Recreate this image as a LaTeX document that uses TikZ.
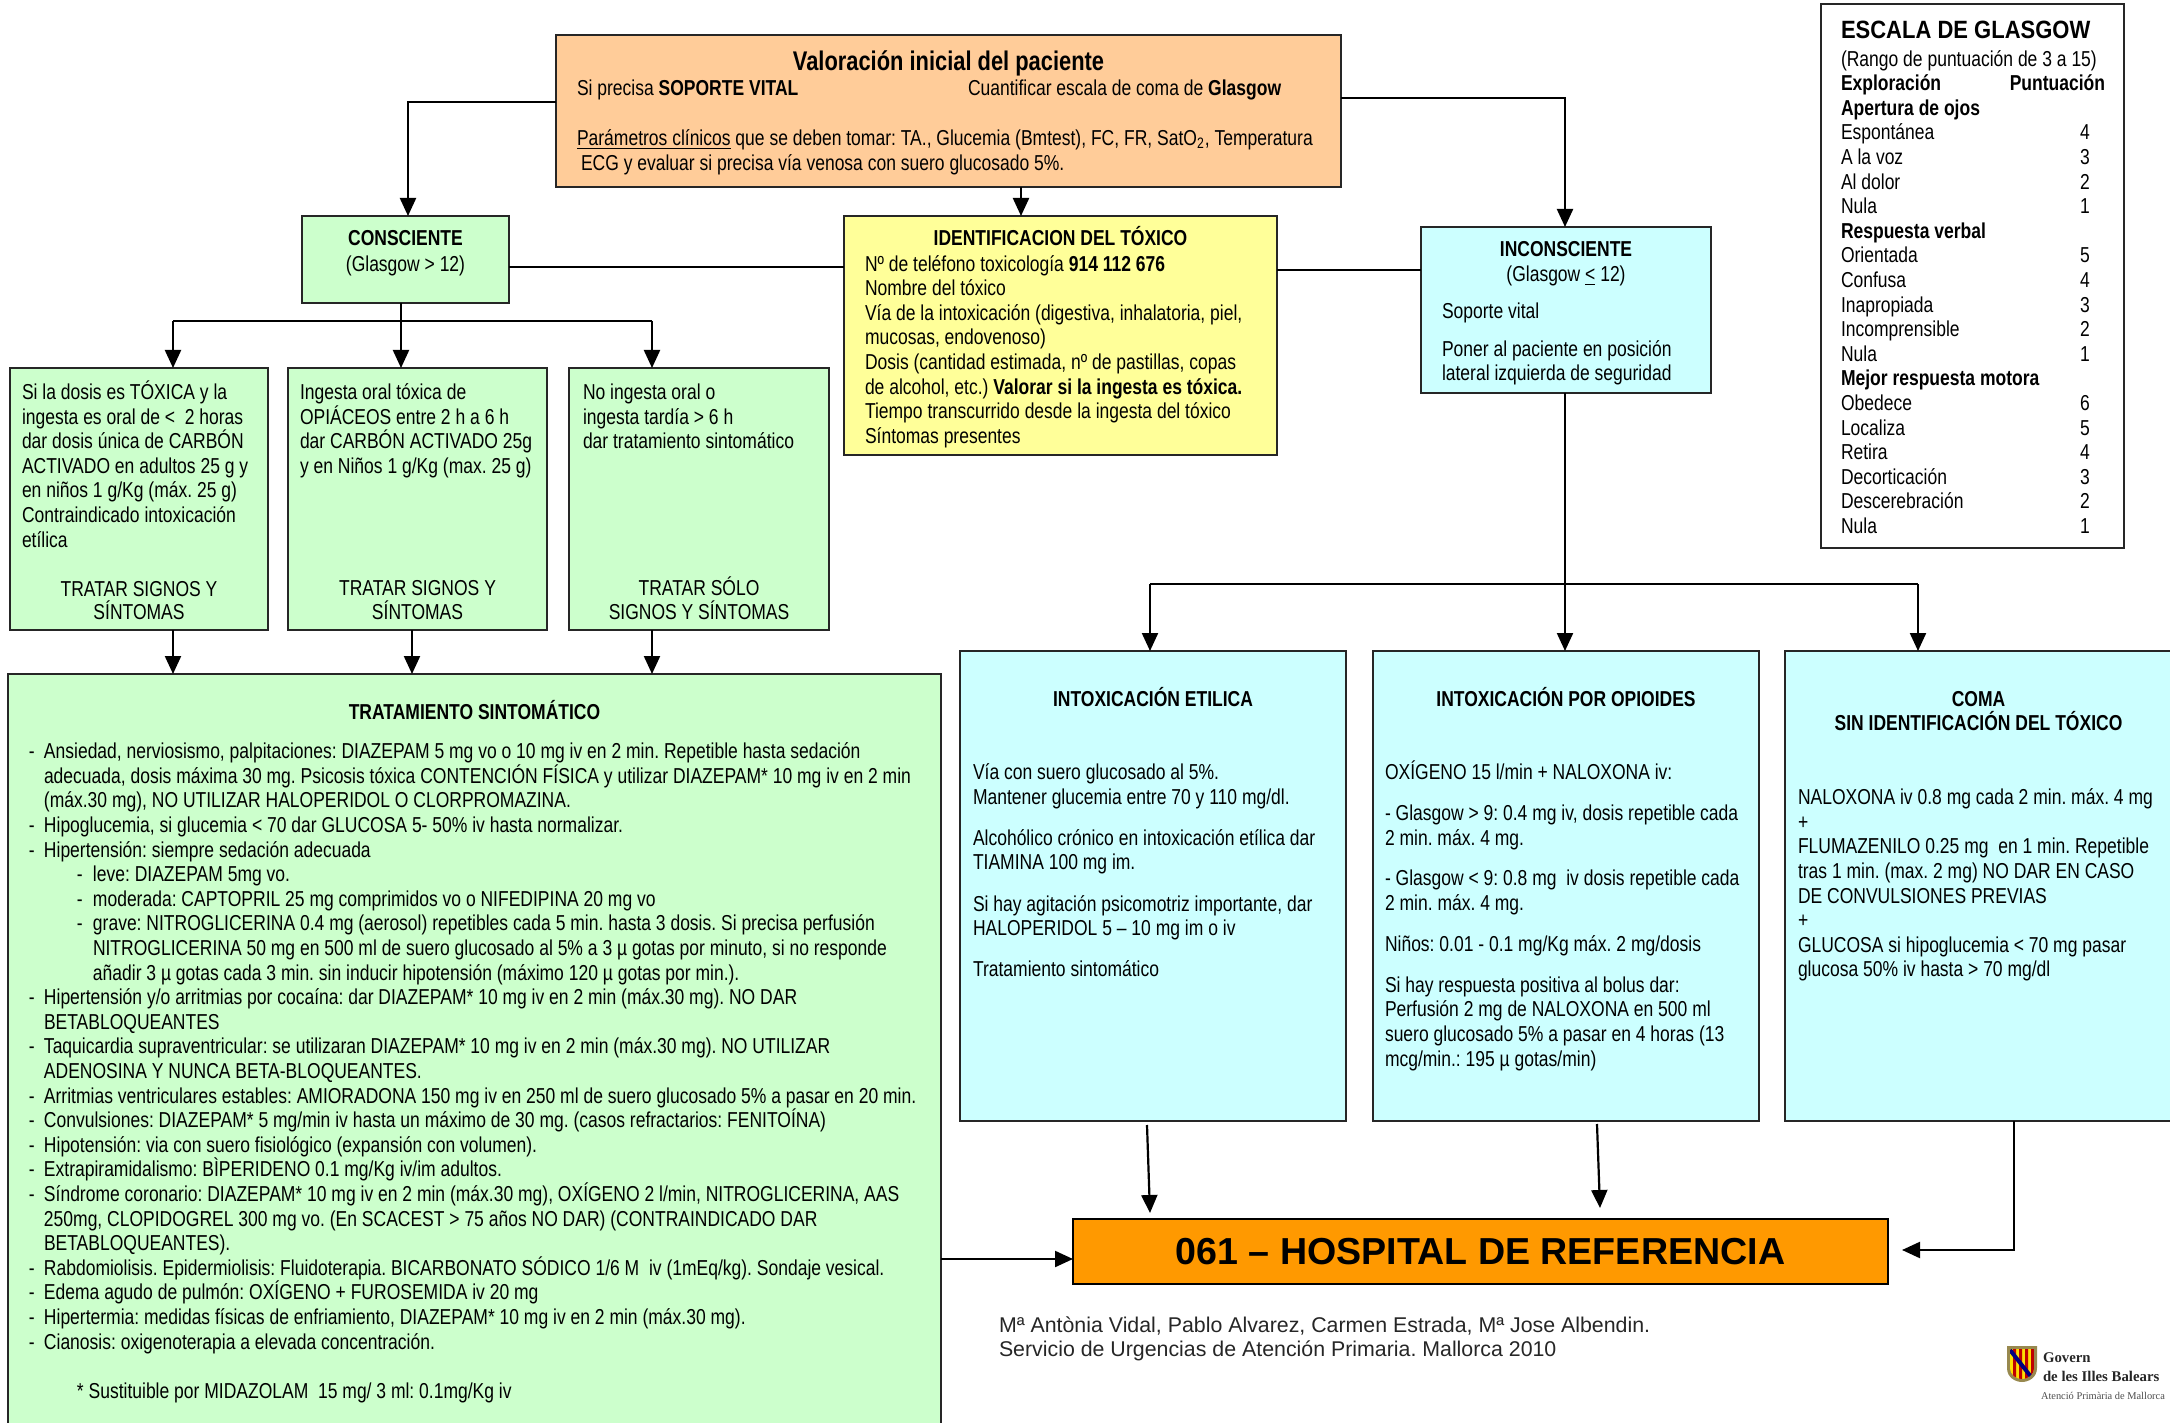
\documentclass[tikz,border=0pt]{standalone}
\usepackage{fontspec}
\usetikzlibrary{arrows.meta}
\setmainfont{Liberation Sans}[FakeStretch=0.81]
\newfontfamily\widefont{Liberation Sans}
\newfontfamily\titlefont{Liberation Sans}[FakeStretch=0.88]
\newfontfamily\logofont{Liberation Serif}
\definecolor{cgreen}{HTML}{CCFFCC}
\definecolor{cyellow}{HTML}{FFFF99}
\definecolor{ccyan}{HTML}{CCFFFF}
\definecolor{corange}{HTML}{FFCC99}
\definecolor{chosp}{HTML}{FF9900}
\newdimen\pxu \pxu=0.5pt
\newdimen\curpad
\newdimen\bxw
\newdimen\bxh
\lineskiplimit=-20pt
\frenchspacing
\newcommand\basefont{\fontsize{10.8pt}{12.3pt}\selectfont\frenchspacing}
\newcommand\PD[1]{\curpad=#1\pxu\relax}
\newcommand\SK[1]{\vskip #1\pxu\relax}
\newcommand\LL[1]{\setbox0\hbox{\hskip\curpad #1}\ht0=8pt \dp0=3pt \box0\relax}
\newcommand\LC[1]{\setbox0\hbox to \hsize{\hss #1\hss}\ht0=8pt \dp0=3pt \box0\relax}
\newcommand\DA[1]{\LL{\makebox[7.5pt][l]{-}#1}}
\newcommand\CA[1]{\LL{\hskip7.5pt\relax #1}}
\newcommand\DB[1]{\LL{\hskip24pt\relax\makebox[8pt][l]{-}#1}}
\newcommand\CB[1]{\LL{\hskip32pt\relax #1}}
\newcommand\GL[2]{\LL{\makebox[119.6pt][l]{#1}#2}}
\newcommand\bx[7]{%
  \bxw=\dimexpr\numexpr#4-#2\relax\pxu\relax
  \bxh=\dimexpr\numexpr#5-#3\relax\pxu\relax
  \node[boxst,#6,anchor=north west,minimum width=\the\bxw,minimum height=\the\bxh] (#1) at (#2,#3)
    {\vbox to \bxh{\hsize=\bxw \hrule height 0pt width \hsize\relax #7\vss}};}
\tikzset{
  boxst/.style={draw=black!85,line width=1pt,inner sep=0pt,outer sep=0pt,font=\basefont},
  lnk/.style={draw=black,line width=1.1pt},
  arr/.style={draw=black,line width=1.1pt,-{Triangle[length=9pt,width=8pt]}},
  free/.style={inner sep=0pt,outer sep=0pt,anchor=west},
  gbox/.style={fill=cgreen},
  ybox/.style={fill=cyellow},
  cbox/.style={fill=ccyan},
  obox/.style={fill=corange},
  wbox/.style={fill=white},
}
\begin{document}
\begin{tikzpicture}[x=0.5pt,y=-0.5pt]
\clip (0,0) rectangle (2170,1423);
\useasboundingbox (0,0) rectangle (2170,1423);
% --- boxes
\bx{oa}{556}{35}{1341}{187}{obox}{\PD{21}\SK{20}%
  \LC{\fontsize{13.5pt}{12.3pt}\selectfont\bfseries Valoración inicial del paciente}\SK{-0.5}%
  \LL{\makebox[195.5pt][l]{Si precisa \textbf{SOPORTE VITAL}}Cuantificar escala de coma de \textbf{Glasgow}}\SK{25.5}%
  \LL{\underline{Parámetros clínicos} que se deben tomar: TA., Glucemia (Bmtest), FC, FR, SatO\textsubscript{2}, Temperatura}\SK{1}%
  \LL{\hskip2pt ECG y evaluar si precisa vía venosa con suero glucosado 5\%.}}
\bx{cons}{302}{216}{509}{303}{gbox}{\PD{10}\SK{13.5}%
  \LC{\bfseries CONSCIENTE}\SK{1.5}%
  \LC{(Glasgow > 12)}}
\bx{ye}{844}{216}{1277}{455}{ybox}{\PD{21}\SK{13.5}%
  \LC{\bfseries IDENTIFICACION DEL TÓXICO}\SK{1}%
  \LL{Nº de teléfono toxicología \textbf{914 112 676}}%
  \LL{Nombre del tóxico}%
  \LL{Vía de la intoxicación (digestiva, inhalatoria, piel,}%
  \LL{mucosas, endovenoso)}%
  \LL{Dosis (cantidad estimada, nº de pastillas, copas}%
  \LL{de alcohol, etc.) \textbf{Valorar si la ingesta es tóxica.}}%
  \LL{Tiempo transcurrido desde la ingesta del tóxico}%
  \LL{Síntomas presentes}}
\bx{inc}{1421}{227}{1711}{393}{cbox}{\PD{21}\SK{13.5}%
  \LC{\bfseries INCONSCIENTE}\SK{0.5}%
  \LC{(Glasgow \underline{<} 12)}\SK{12.5}%
  \LL{Soporte vital}\SK{13}%
  \LL{Poner al paciente en posición}%
  \LL{lateral izquierda de seguridad}}
\bx{gA}{10}{368}{268}{630}{gbox}{\PD{12}\SK{15.5}%
  \LL{Si la dosis es TÓXICA y la}%
  \LL{ingesta es oral de <\ \ 2 horas}%
  \LL{dar dosis única de CARBÓN}%
  \LL{ACTIVADO en adultos 25 g y}%
  \LL{en niños 1 g/Kg (máx. 25 g)}%
  \LL{Contraindicado intoxicación}%
  \LL{etílica}\SK{24.5}%
  \LC{TRATAR SIGNOS Y}\SK{-1}%
  \LC{SÍNTOMAS}}
\bx{gB}{288}{368}{547}{630}{gbox}{\PD{12}\SK{15.5}%
  \LL{Ingesta oral tóxica de}%
  \LL{OPIÁCEOS entre 2 h a 6 h}%
  \LL{dar CARBÓN ACTIVADO 25g}%
  \LL{y en Niños 1 g/Kg (max. 25 g)}\SK{97.5}%
  \LC{TRATAR SIGNOS Y}\SK{-1}%
  \LC{SÍNTOMAS}}
\bx{gC}{569}{368}{829}{630}{gbox}{\PD{14}\SK{15.5}%
  \LL{No ingesta oral o}%
  \LL{ingesta tardía > 6 h}%
  \LL{dar tratamiento sintomático}\SK{122.5}%
  \LC{TRATAR SÓLO}\SK{-1}%
  \LC{SIGNOS Y SÍNTOMAS}}
\bx{trat}{8}{674}{941}{1432}{gbox}{\PD{21}\SK{29.5}%
  \LC{\bfseries TRATAMIENTO SINTOMÁTICO}\SK{14.5}%
  \DA{Ansiedad, nerviosismo, palpitaciones: DIAZEPAM 5 mg vo o 10 mg iv en 2 min. Repetible hasta sedación}%
  \CA{adecuada, dosis máxima 30 mg. Psicosis tóxica CONTENCIÓN FÍSICA y utilizar DIAZEPAM* 10 mg iv en 2 min}%
  \CA{(máx.30 mg), NO UTILIZAR HALOPERIDOL O CLORPROMAZINA.}%
  \DA{Hipoglucemia, si glucemia < 70 dar GLUCOSA 5- 50\% iv hasta normalizar.}%
  \DA{Hipertensión: siempre sedación adecuada}%
  \DB{leve: DIAZEPAM 5mg vo.}%
  \DB{moderada: CAPTOPRIL 25 mg comprimidos vo o NIFEDIPINA 20 mg vo}%
  \DB{grave: NITROGLICERINA 0.4 mg (aerosol) repetibles cada 5 min. hasta 3 dosis. Si precisa perfusión}%
  \CB{NITROGLICERINA 50 mg en 500 ml de suero glucosado al 5\% a 3 µ gotas por minuto, si no responde}%
  \CB{añadir 3 µ gotas cada 3 min. sin inducir hipotensión (máximo 120 µ gotas por min.).}%
  \DA{Hipertensión y/o arritmias por cocaína: dar DIAZEPAM* 10 mg iv en 2 min (máx.30 mg). NO DAR}%
  \CA{BETABLOQUEANTES}%
  \DA{Taquicardia supraventricular: se utilizaran DIAZEPAM* 10 mg iv en 2 min (máx.30 mg). NO UTILIZAR}%
  \CA{ADENOSINA Y NUNCA BETA-BLOQUEANTES.}%
  \DA{Arritmias ventriculares estables: AMIORADONA 150 mg iv en 250 ml de suero glucosado 5\% a pasar en 20 min.}%
  \DA{Convulsiones: DIAZEPAM* 5 mg/min iv hasta un máximo de 30 mg. (casos refractarios: FENITOÍNA)}%
  \DA{Hipotensión: via con suero fisiológico (expansión con volumen).}%
  \DA{Extrapiramidalismo: BÌPERIDENO 0.1 mg/Kg iv/im adultos.}%
  \DA{Síndrome coronario: DIAZEPAM* 10 mg iv en 2 min (máx.30 mg), OXÍGENO 2 l/min, NITROGLICERINA, AAS}%
  \CA{250mg, CLOPIDOGREL 300 mg vo. (En SCACEST > 75 años NO DAR) (CONTRAINDICADO DAR}%
  \CA{BETABLOQUEANTES).}%
  \DA{Rabdomiolisis. Epidermiolisis: Fluidoterapia. BICARBONATO SÓDICO 1/6 M\ \ iv (1mEq/kg). Sondaje vesical.}%
  \DA{Edema agudo de pulmón: OXÍGENO + FUROSEMIDA iv 20 mg}%
  \DA{Hipertermia: medidas físicas de enfriamiento, DIAZEPAM* 10 mg iv en 2 min (máx.30 mg).}%
  \DA{Cianosis: oxigenoterapia a elevada concentración.}\SK{25}%
  \LL{\hskip24pt * Sustituible por MIDAZOLAM\ \ 15 mg/ 3 ml: 0.1mg/Kg iv}}
\bx{et}{960}{651}{1346}{1121}{cbox}{\PD{13}\SK{39.5}%
  \LC{\bfseries INTOXICACIÓN ETILICA}\SK{48.5}%
  \LL{Vía con suero glucosado al 5\%.}%
  \LL{Mantener glucemia entre 70 y 110 mg/dl.}\SK{16.5}%
  \LL{Alcohólico crónico en intoxicación etílica dar}%
  \LL{TIAMINA 100 mg im.}\SK{16.5}%
  \LL{Si hay agitación psicomotriz importante, dar}%
  \LL{HALOPERIDOL 5 – 10 mg im o iv}\SK{16.5}%
  \LL{Tratamiento sintomático}}
\bx{op}{1373}{651}{1759}{1121}{cbox}{\PD{12}\SK{39.5}%
  \LC{\bfseries INTOXICACIÓN POR OPIOIDES}\SK{48.5}%
  \LL{OXÍGENO 15 l/min + NALOXONA iv:}\SK{16.5}%
  \LL{- Glasgow > 9: 0.4 mg iv, dosis repetible cada}%
  \LL{2 min. máx. 4 mg.}\SK{16}%
  \LL{- Glasgow < 9: 0.8 mg\ \ iv dosis repetible cada}%
  \LL{2 min. máx. 4 mg.}\SK{16}%
  \LL{Niños: 0.01 - 0.1 mg/Kg máx. 2 mg/dosis}\SK{16.5}%
  \LL{Si hay respuesta positiva al bolus dar:}%
  \LL{Perfusión 2 mg de NALOXONA en 500 ml}%
  \LL{suero glucosado 5\% a pasar en 4 horas (13}%
  \LL{mcg/min.: 195 µ gotas/min)}}
\bx{co}{1785}{651}{2172}{1121}{cbox}{\PD{13}\SK{39.5}%
  \LC{\bfseries COMA}\SK{-0.5}%
  \LC{\bfseries SIN IDENTIFICACIÓN DEL TÓXICO}\SK{49.5}%
  \LL{NALOXONA iv 0.8 mg cada 2 min. máx. 4 mg}%
  \LL{+}%
  \LL{FLUMAZENILO 0.25 mg\ \ en 1 min. Repetible}%
  \LL{tras 1 min. (max. 2 mg) NO DAR EN CASO}%
  \LL{DE CONVULSIONES PREVIAS}%
  \LL{+}%
  \LL{GLUCOSA si hipoglucemia < 70 mg pasar}%
  \LL{glucosa 50\% iv hasta > 70 mg/dl}}
\bx{gl}{1821}{4}{2124}{548}{wbox}{\PD{20}\SK{18}%
  \LL{\titlefont\fontsize{12.5pt}{12.25pt}\selectfont\bfseries ESCALA DE GLASGOW}\SK{3.5}%
  \LL{(Rango de puntuación de 3 a 15)}%
  \LL{\makebox[132pt][l]{\textbf{Exploración}\hfill\textbf{Puntuación}}}%
  \LL{\textbf{Apertura de ojos}}%
  \GL{Espontánea}{4}\GL{A la voz}{3}\GL{Al dolor}{2}\GL{Nula}{1}%
  \LL{\textbf{Respuesta verbal}}%
  \GL{Orientada}{5}\GL{Confusa}{4}\GL{Inapropiada}{3}\GL{Incomprensible}{2}\GL{Nula}{1}%
  \LL{\textbf{Mejor respuesta motora}}%
  \GL{Obedece}{6}\GL{Localiza}{5}\GL{Retira}{4}\GL{Decorticación}{3}\GL{Descerebración}{2}\GL{Nula}{1}}
\node[draw=black,line width=1pt,fill=chosp,inner sep=0pt,outer sep=0pt,minimum width=407.5pt,minimum height=32.5pt,
  font=\widefont\fontsize{18.8pt}{22pt}\selectfont\bfseries] (ho) at (1480.5,1251.5) {\raisebox{-1.3pt}{061 – HOSPITAL DE REFERENCIA}};
\node[free,font=\widefont\fontsize{10.67pt}{12pt}\selectfont,text=black!85] (fa) at (999,1326) {Mª Antònia Vidal, Pablo Alvarez, Carmen Estrada, Mª Jose Albendin.};
\node[free,font=\widefont\fontsize{10.67pt}{12pt}\selectfont,text=black!85] (fb) at (999,1350.5) {Servicio de Urgencias de Atención Primaria. Mallorca 2010};
% --- coordinates
\coordinate (oL) at (408,102);
\coordinate (oR) at (1400,98);
\coordinate (oY) at (1021,200);
\coordinate (cY) at (600,267);
\coordinate (yI) at (1350,270);
\coordinate (bL) at (173,321);
\coordinate (bC) at (401,321);
\coordinate (bR) at (652,321);
\coordinate (cT) at (412,650);
\coordinate (bE) at (1150,584);
\coordinate (bO) at (1918,584);
\coordinate (bM) at (1565,584);
\coordinate (eS) at (1147,1125);
\coordinate (eE) at (1150,1213);
\coordinate (oS) at (1597,1124);
\coordinate (oE) at (1600,1208);
\coordinate (cS) at (2014,1121);
\coordinate (cE) at (1902,1250);
\coordinate (tH) at (1000,1259);
% --- connectors
\draw[arr] (oa.west |- oL) -| (cons.north -| oL);
\draw[arr] (oa.east |- oR) -| (inc.north -| bM);
\draw[arr] (oa.south -| oY) -- (ye.north -| oY);
\draw[lnk] (cons.east |- cY) -- (ye.west |- cY);
\draw[lnk] (ye.east |- yI) -- (inc.west |- yI);
\draw[arr] (cons.south -| bC) -- (gB.north -| bC);
\draw[lnk] (bL) -- (bR);
\draw[arr] (bL) -- (gA.north -| bL);
\draw[arr] (bR) -- (gC.north -| bR);
\draw[arr] (gA.south -| bL) -- (trat.north -| bL);
\draw[arr] (gB.south -| cT) -- (trat.north -| cT);
\draw[arr] (gC.south -| bR) -- (trat.north -| bR);
\draw[arr] (inc.south -| bM) -- (op.north -| bM);
\draw[lnk] (bE) -- (bO);
\draw[arr] (bE) -- (et.north -| bE);
\draw[arr] (bO) -- (co.north -| bO);
\draw[arr] (eS) -- (eE);
\draw[arr] (oS) -- (oE);
\draw[arr] (cS) |- (cE);
\draw[arr] (trat.east |- tH) -- (ho.west |- tH);
% --- logo
\begin{scope}
  \fill[fill=black!55!yellow!70!brown] (2007,1346) -- (2037,1346) -- (2037,1368) .. controls (2037,1378) and (2028,1382) .. (2022,1382) .. controls (2016,1382) and (2007,1378) .. (2007,1368) -- cycle;
  \clip (2010,1349) -- (2034,1349) -- (2034,1367) .. controls (2034,1376) and (2027,1379) .. (2022,1379) .. controls (2017,1379) and (2010,1376) .. (2010,1367) -- cycle;
  \fill[yellow!80!orange] (2010,1349) rectangle (2034,1380);
  \fill[red!75!black] (2013,1349) rectangle (2016,1380) (2019,1349) rectangle (2022,1380) (2025,1349) rectangle (2028,1380) (2031,1349) rectangle (2034,1380);
  \draw[blue!50!black,line width=2pt] (2010,1350) -- (2032,1378);
\end{scope}
\node[free,font=\logofont\fontsize{7.4pt}{8pt}\selectfont\bfseries,text=black!85] (lga) at (2043,1358) {Govern};
\node[free,font=\logofont\fontsize{7.4pt}{8pt}\selectfont\bfseries,text=black!85] (lgb) at (2043,1376) {de les Illes Balears};
\node[free,font=\logofont\fontsize{5.2pt}{7pt}\selectfont,text=black!70] (lgc) at (2041,1396) {Atenció Primària de Mallorca};
\end{tikzpicture}
\end{document}
